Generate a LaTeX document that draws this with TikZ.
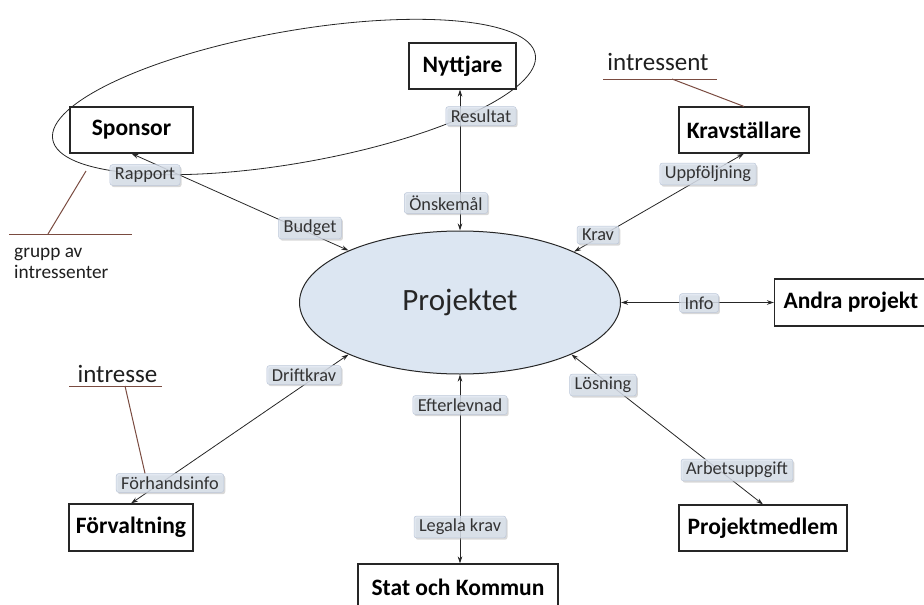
\documentclass[tikz,border=0pt]{standalone}
\usepackage{fontspec}
\setmainfont{Carlito}
\usetikzlibrary{arrows.meta,shadows,shapes.geometric}
\definecolor{lblfill}{HTML}{DAE2EE}
\definecolor{lbldraw}{HTML}{BCC7D8}
\definecolor{annot}{HTML}{7A4B40}
\definecolor{projfill}{HTML}{DCE6F2}
\begin{document}
\begin{tikzpicture}[x=1pt,y=-1pt,
  box/.style={draw=black!85, line width=1.1pt, fill=white, font=\fontsize{23.5}{26}\selectfont\bfseries, inner sep=0pt},
  lbl/.style={draw=lbldraw, line width=0.5pt, fill=lblfill, fill opacity=0.75, text opacity=1, rounded corners=2.5pt, font=\fontsize{18.3}{21}\selectfont, text=black!80, inner xsep=5pt, inner ysep=3pt, drop shadow={shadow xshift=1.5pt, shadow yshift=-1.8pt, fill=black!30, opacity=0.5}},
  conn/.style={draw=black!85, line width=0.8pt, {Stealth[length=7pt,width=4.5pt]}-{Stealth[length=7pt,width=4.5pt]}},
  note/.style={font=\fontsize{25}{28}\selectfont, text=black!88},
  smallnote/.style={font=\fontsize{19.3}{22}\selectfont, text=black!88, anchor=base west, inner sep=0pt},
  annline/.style={draw=annot, line width=1pt}]
\useasboundingbox (0,0) rectangle (924,605);
\clip (0,0) rectangle (924,605);

% central node
\node[ellipse, draw=black!85, line width=1pt, fill=projfill, minimum width=321pt, minimum height=143pt, inner sep=0pt, font=\fontsize{31}{34}\selectfont, text=black!85] (P) at (460,302.5) {Projektet};

% group ellipse
\draw[line width=0.8pt, draw=black!85, rotate around={10:(294,97)}] (294,97) ellipse [x radius=245, y radius=66];

% boxes
\node[box, minimum width=107pt, minimum height=46pt] (N) at (462.5,66) {Nyttjare};
\node[box, minimum width=123pt, minimum height=46pt] (Sp) at (131.5,130) {Sponsor};
\node[box, minimum width=130pt, minimum height=46pt] (K) at (744,130) {Kravställare};
\node[box, minimum height=47pt, anchor=west, inner xsep=9pt] (A) at (774,302.5) {Andra projekt};
\node[box, minimum width=168pt, minimum height=46pt] (M) at (763,528) {Projektmedlem};
\node[box, minimum width=124pt, minimum height=47pt] (F) at (131,527.5) {Förvaltning};
\node[box, minimum width=200pt, minimum height=46pt] (S) at (458,587) {Stat och Kommun};

% connectors
\draw[conn] (Sp.south) -- (P.155);
\draw[conn] (P.north) -- (P.north |- N.south);
\draw[conn] (K.south) -- (P.24.5);
\draw[conn] (P.east) -- (A.west);
\draw[conn] (P.335) -- (M.north);
\draw[conn] (P.south) -- (P.south |- S.north);
\draw[conn] (P.205) -- (F.north);

% labels
\node[lbl] (lRap) at (145,175) {Rapport};
\node[lbl] (lBud) at (310,228) {Budget};
\node[lbl] (lRes) at (481,116) {Resultat};
\node[lbl] (lOns) at (446,203) {Önskemål};
\node[lbl] (lUpp) at (708,174) {Uppföljning};
\node[lbl] (lKra) at (598,235) {Krav};
\node[lbl] (lInf) at (699,303) {Info};
\node[lbl] (lLos) at (603,385) {Lösning};
\node[lbl] (lArb) at (737,470) {Arbetsuppgift};
\node[lbl] (lEft) at (460,405) {Efterlevnad};
\node[lbl] (lLeg) at (460,527) {Legala krav};
\node[lbl] (lDri) at (304,375) {Driftkrav};
\node[lbl] (lFor) at (170,483) {Förhandsinfo};

% annotations
\node[note, anchor=base] (tInt) at (658,70) {intressent};
\coordinate (iL) at (603,79);
\coordinate (iR) at (717,79);
\coordinate (iK) at (672,79);
\draw[annline] (iL) -- (iR);
\draw[annline] (iK) -- (K.north);

\node[note, anchor=base] (tIntr) at (117.5,382) {intresse};
\coordinate (jL) at (69,386);
\coordinate (jR) at (162,386);
\coordinate (jK) at (125,386);
\draw[annline] (jL) -- (jR);
\draw[annline] (jK) -- (lFor.north -| 145,0);

\node[smallnote] (tGr1) at (14,257) {grupp av};
\node[smallnote] (tGr2) at (14,278) {intressenter};
\coordinate (gL) at (9,234);
\coordinate (gR) at (132,234);
\coordinate (gK) at (48,234);
\coordinate (gE) at (86,171);
\draw[annline] (gL) -- (gR);
\draw[annline] (gK) -- (gE);
\end{tikzpicture}
\end{document}
